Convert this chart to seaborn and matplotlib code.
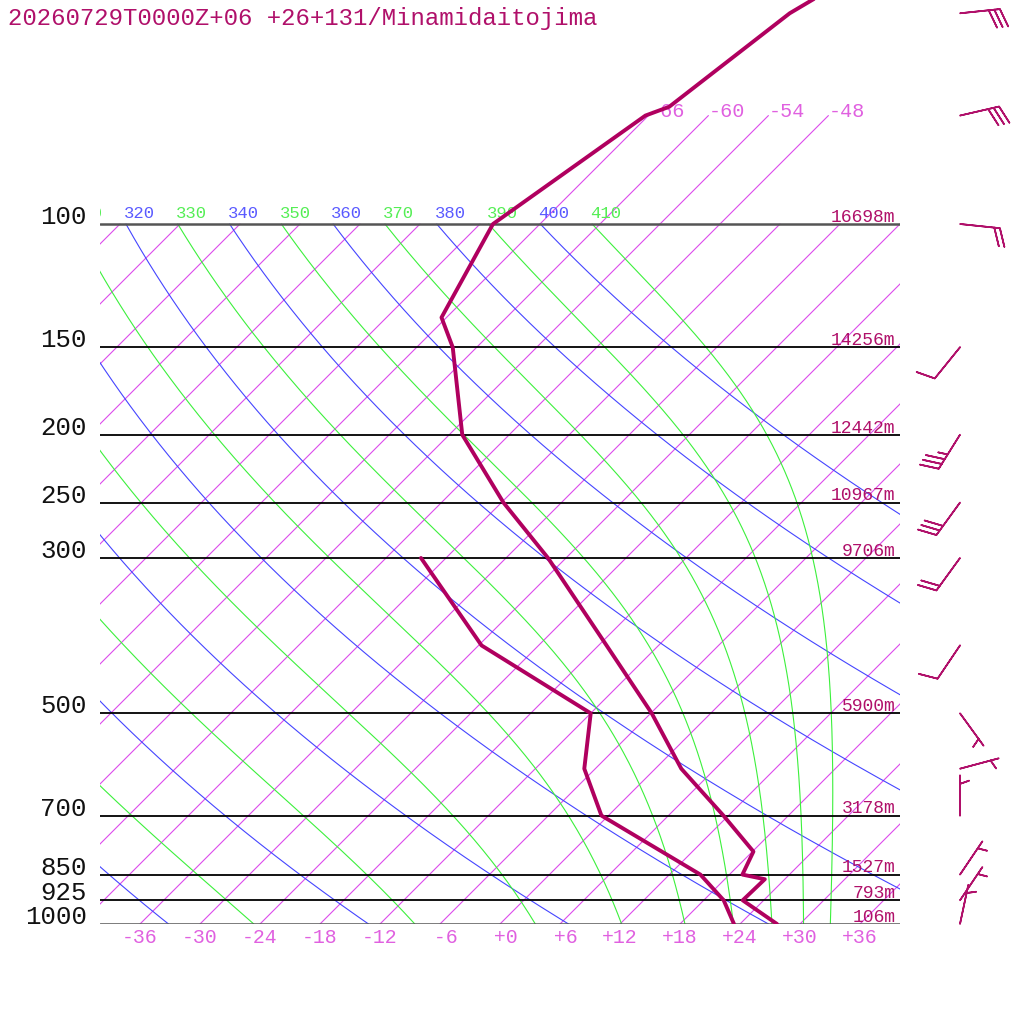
import numpy as np
import pandas as pd
import matplotlib
matplotlib.use("Agg")
import matplotlib.pyplot as plt
import seaborn as sns

TITLE = "20260729T0000Z+06 +26+131/Minamidaitojima"

# sounding: temperature (hPa, degC)
temp_p = [1000, 925, 863, 850, 788, 700, 600, 500, 400, 300, 250, 200, 150, 136, 100, 70, 68, 50, 30]
temp_c = [27.7, 21.9, 22.0, 19.3, 18.1, 11.5, 2.6, -5.9, -17.2, -31.8, -41.8, -52.7, -62.4, -66.5,
          -70.7, -66.3, -64.8, -62.1, -51.4]
# dewpoint (hPa, degC)
dew_p = [1000, 925, 850, 700, 600, 500, 400, 300]
dew_c = [23.4, 20.0, 15.1, -0.7, -7.1, -12.0, -29.7, -44.5]

# standard levels with geopotential height
std_p = [100, 150, 200, 250, 300, 500, 700, 850, 925, 1000]
std_hgt = ["16698m", "14256m", "12442m", "10967m", "9706m", "5900m", "3178m", "1527m", "793m", "106m"]

# winds (direction from, knots)
wind_p = [50, 70, 100, 150, 200, 250, 300, 400, 500, 600, 700, 850, 925, 1000]
wind_dir = [84, 77, 96, 219, 212, 216, 216, 214, 144, 75, 360, 34, 34, 12]
wind_kt = [30, 30, 20, 10, 35, 30, 20, 10, 5, 5, 5, 5, 5, 5]

tick_temps = list(range(-36, 37, 6))
top_isotherms = [-66, -60, -54, -48]
dry_thetas = list(range(240, 401, 20))
moist_thetas = list(range(250, 411, 20))

# diagram geometry: 45 deg skew, 10 px per degC, 304 px per ln(p)
SKEW = 30.4
P_TOP = 100 * np.exp(-224 / 304.0)
KAPPA = 0.2857
RD, CP, LV, EPS = 287.04, 1005.7, 2.501e6, 0.622

PROFILE = "#b0005f"
ISO = "#dc4cec"
DRY = "#4545ff"
MOIST = "#3cf03c"
PINK = "#e060e0"
DEEP = "#b0106a"


def skew_x(t, p):
    return np.asarray(t, dtype=float) + SKEW * np.log(1000.0 / np.asarray(p, dtype=float))


def dtdp(p, t):
    es = 6.112 * np.exp(17.67 * (t - 273.15) / (t - 29.65))
    rs = EPS * es / (p - es)
    return (RD * t + LV * rs) / p / (CP + LV * LV * rs * EPS / (RD * t * t))


def moist_adiabat(theta_e, pg):
    # integrate pseudo-adiabat down from 100 hPa (almost dry up there)
    t = theta_e * (pg[0] / 1000.0) ** KAPPA
    out = [t]
    for p0, p1 in zip(pg[:-1], pg[1:]):
        h = p1 - p0
        k1 = dtdp(p0, t)
        k2 = dtdp(p0 + h / 2, t + h / 2 * k1)
        k3 = dtdp(p0 + h / 2, t + h / 2 * k2)
        k4 = dtdp(p1, t + h * k3)
        t = t + h / 6 * (k1 + 2 * k2 + 2 * k3 + k4)
        out.append(t)
    return np.array(out) - 273.15


def top_label(x, text, color):
    # label at the 100 hPa end of an adiabat, skipped when fully off the chart
    if x < -43.2:
        return
    ax.annotate(text, xy=(x, 100), xytext=(-1.4, 4.3), textcoords="offset points",
                ha="left", va="baseline", color=color, fontsize=12.4,
                clip_on=True, annotation_clip=False)


sns.set_theme(style="white")
plt.rcParams["font.family"] = ["Liberation Mono", "DejaVu Sans Mono"]

fig = plt.figure(figsize=(10.24, 10.24), dpi=100)
ax = fig.add_axes([100 / 1024, 100 / 1024, 800 / 1024, 924 / 1024])
ax.set_yscale("log")

pg = np.geomspace(100, 1000, 400)
thin = dict(lw=0.8)

# isotherms
for t in range(-114, 43, 6):
    ax.plot(skew_x(t, pg), pg, color=ISO, zorder=1, **thin)
pu = np.geomspace(70, 100, 20)
for t in top_isotherms:
    ax.plot(skew_x(t, pu), pu, color=ISO, zorder=1, **thin)
    ax.annotate(f"{t}", xy=(skew_x(t, 70), 70), xytext=(0, -1), textcoords="offset points",
                ha="left", va="baseline", color=PINK, fontsize=14.5, annotation_clip=False)

# dry adiabats
for th in dry_thetas:
    t = th * (pg / 1000.0) ** KAPPA - 273.15
    ax.plot(skew_x(t, pg), pg, color=DRY, zorder=2, **thin)
    top_label(float(skew_x(t[0], 100)), str(th), "#5a5aff")

# moist adiabats
for th in moist_thetas:
    t = moist_adiabat(th, pg)
    ax.plot(skew_x(t, pg), pg, color=MOIST, zorder=2, **thin)
    top_label(float(skew_x(t[0], 100)), str(th), "#55ee55")

# standard pressure lines, labels and heights
for p, h in zip(std_p, std_hgt):
    edge = p in (100, 1000)
    ax.plot([-40, 40], [p, p], color="#555555" if edge else "black", lw=1.8 if edge else 1.3, zorder=3)
    ax.annotate(str(p), xy=(-40, p), xytext=(-9.4, 0), textcoords="offset points",
                ha="right", va="baseline", color="#111111", fontsize=18.5, annotation_clip=False)
    ax.annotate(h, xy=(40, p), xytext=(-3.2, 1.6), textcoords="offset points",
                ha="right", va="baseline", color=DEEP, fontsize=13, annotation_clip=False)

# temperature axis labels
for t in tick_temps:
    s = f"{t:+d}" if t != 0 else "+0"
    ax.annotate(f"{s:>3}", xy=(t, 1000), xytext=(0, -9.4), textcoords="offset points",
                ha="center", va="center", color=PINK, fontsize=14.3, annotation_clip=False)

# temperature and dewpoint profiles
df_t = pd.DataFrame({"x": skew_x(temp_c, temp_p), "p": temp_p})
df_d = pd.DataFrame({"x": skew_x(dew_c, dew_p), "p": dew_p})
sns.lineplot(data=df_t, x="x", y="p", sort=False, estimator=None, color=PROFILE, lw=2.8, ax=ax, zorder=6)
sns.lineplot(data=df_d, x="x", y="p", sort=False, estimator=None, color=PROFILE, lw=2.8, ax=ax, zorder=6)

# wind barbs
wd = np.deg2rad(wind_dir)
spd = np.array(wind_kt, dtype=float)
u = -spd * np.sin(wd)
v = -spd * np.cos(wd)
ax.barbs(np.full(len(wind_p), 46.0), wind_p, u, v, length=7.6, pivot="tip", color=DEEP,
         lw=1.2, sizes=dict(spacing=0.14, height=0.45, width=0.32), clip_on=False, zorder=7)

ax.set_xlim(-40, 40)
ax.set_ylim(1000, P_TOP)
ax.set_axis_off()

fig.text(8 / 1024, 1 - 18 / 1024, TITLE, ha="left", va="center", fontsize=17.3, color=DEEP)

fig.savefig("out.png", dpi=100, facecolor="white")
